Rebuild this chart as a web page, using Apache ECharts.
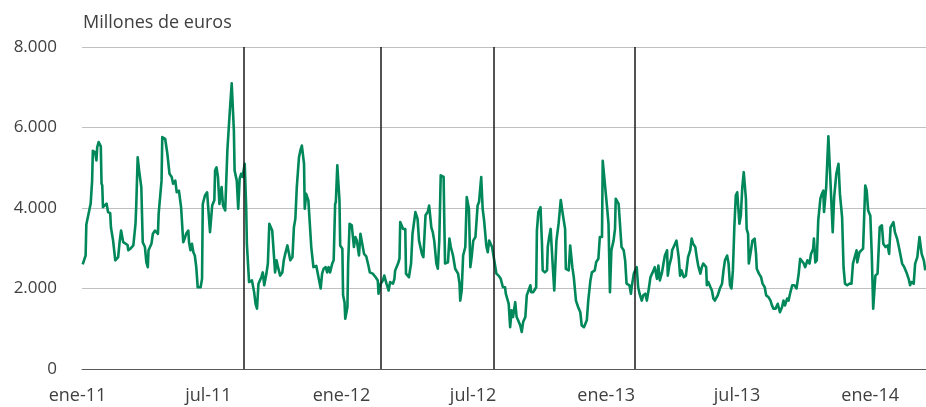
<!DOCTYPE html>
<html>
<head>
<meta charset="utf-8">
<script src="https://cdn.jsdelivr.net/npm/echarts@6/dist/echarts.min.js"></script>
<style>
  html, body { margin: 0; padding: 0; background: #fff; }
  #main { width: 926px; height: 407px; }
</style>
</head>
<body>
<div id="main"></div>
<script>
// days since 1 Jan 2011 for each reading
const dayOffsets = [
  1, 5, 6, 12, 14, 15, 18, 20, 21, 23, 26, 27, 28, 29, 31, 34, 36, 39, 40, 43,
  46, 50, 52, 54, 57, 59, 63, 64, 67, 71, 74, 75, 77, 79, 82, 84, 87, 89, 91, 92,
  96, 98, 101, 105, 106, 110, 111, 115, 118, 121, 124, 126, 129, 131, 134, 137, 140, 142, 144, 147,
  148, 150, 152, 154, 156, 158, 160, 164, 166, 167, 170, 173, 177, 179, 180, 183, 184, 186, 188, 190,
  193, 195, 198, 201, 204, 207, 210, 211, 214, 216, 218, 220, 222, 225, 227, 228, 231, 235, 238, 240,
  242, 244, 248, 250, 252, 255, 257, 259, 263, 265, 267, 269, 271, 274, 277, 279, 281, 284, 286, 288,
  291, 293, 295, 297, 300, 302, 304, 307, 308, 310, 313, 315, 317, 320, 324, 326, 330, 332, 334, 337,
  339, 341, 343, 346, 348, 350, 351, 353, 355, 356, 357, 360, 361, 363, 364, 367, 368, 370, 373, 376,
  378, 380, 383, 385, 387, 390, 393, 396, 398, 402, 406, 409, 410, 413, 416, 418, 421, 424, 426, 430,
  432, 433, 437, 439, 440, 444, 447, 448, 450, 452, 454, 455, 457, 461, 464, 466, 470, 472, 475, 478,
  480, 483, 485, 487, 490, 492, 494, 496, 500, 501, 502, 506, 508, 510, 513, 516, 520, 522, 523, 525,
  527, 530, 532, 535, 537, 539, 541, 544, 547, 549, 552, 554, 556, 559, 561, 563, 567, 570, 573, 576,
  579, 582, 585, 586, 590, 592, 594, 596, 599, 601, 603, 606, 608, 610, 613, 615, 617, 620, 621, 624,
  628, 629, 631, 634, 636, 637, 640, 643, 644, 646, 648, 651, 653, 656, 659, 662, 665, 668, 669, 673,
  675, 677, 678, 680, 683, 686, 689, 691, 694, 698, 700, 703, 705, 709, 711, 714, 716, 719, 720, 723,
  726, 728, 730, 732, 735, 737, 738, 742, 744, 746, 749, 751, 753, 757, 759, 760, 763, 767, 769, 771,
  774, 776, 779, 781, 783, 786, 789, 792, 795, 797, 799, 802, 804, 806, 809, 810, 812, 815, 816, 819,
  822, 825, 827, 829, 832, 835, 838, 841, 843, 845, 848, 850, 852, 855, 857, 859, 863, 864, 866, 869,
  871, 873, 875, 879, 882, 885, 887, 889, 892, 894, 896, 898, 900, 902, 904, 906, 909, 911, 913, 915,
  918, 919, 921, 922, 925, 927, 930, 932, 933, 936, 939, 941, 944, 946, 949, 952, 954, 956, 959, 962,
  965, 968, 970, 972, 975, 977, 979, 982, 985, 988, 991, 993, 995, 998, 1000, 1003, 1006, 1008, 1011, 1012,
  1014, 1016, 1018, 1021, 1023, 1025, 1026, 1029, 1032, 1034, 1038, 1040, 1043, 1046, 1048, 1051, 1053, 1055, 1058, 1061,
  1064, 1066, 1069, 1071, 1072, 1075, 1077, 1080, 1083, 1085, 1087, 1090, 1092, 1094, 1097, 1100, 1103, 1106, 1108, 1111,
  1114, 1116, 1118, 1122, 1124, 1127, 1130, 1134, 1137, 1140, 1143, 1145, 1147, 1150, 1152, 1155, 1158, 1160, 1161, 1164,
  1166
];

// millones de euros
const values = [
  2600, 2820, 3590, 4110, 4680, 5420, 5390, 5180, 5510, 5640, 5530, 4610, 4560, 4020, 4020, 4110, 3900, 3870, 3520, 3190,
  2700, 2780, 3150, 3440, 3150, 3120, 3080, 2950, 2990, 3070, 3610, 4060, 5260, 4930, 4520, 3150, 3030, 2650, 2530, 2950,
  3110, 3360, 3440, 3360, 3860, 4680, 5760, 5720, 5350, 4850, 4770, 4600, 4680, 4390, 4430, 4020, 3150, 3240, 3360, 3440,
  3150, 2950, 3110, 2900, 2820, 2530, 2030, 2030, 2240, 4100, 4310, 4390, 3400, 3360, 4060, 4190, 4930, 5010, 4770, 4100,
  4520, 4060, 3940, 5430, 6300, 7100, 5930, 4930, 4680, 3980, 4730, 4850, 4770, 5100, 4020, 3110, 2160, 2200, 1910, 1620,
  1500, 2120, 2280, 2400, 2080, 2370, 2620, 3610, 3440, 3400, 2400, 2700, 2530, 2320, 2400, 2700, 2860, 3070, 3030, 2700,
  2780, 3520, 3730, 4520, 5260, 5430, 5550, 5100, 3980, 4350, 4190, 4230, 3030, 2530, 2560, 2370, 2000, 2370, 2490, 2530,
  2400, 2530, 2400, 2620, 2700, 4100, 4150, 5060, 5020, 4190, 3070, 2990, 1830, 1660, 1250, 1540, 2620, 3610, 3570, 3030,
  3280, 3190, 2820, 3360, 3320, 2860, 2800, 2570, 2400, 2370, 2280, 2200, 1870, 2120, 2200, 2320, 2120, 1950, 2160, 2120,
  2240, 2450, 2620, 2740, 3650, 3480, 3480, 2370, 2400, 2280, 2320, 2620, 3360, 3900, 3730, 3190, 2860, 2780, 3820, 3900,
  4060, 3520, 3400, 3190, 2620, 2490, 3190, 4810, 4770, 3610, 2620, 2650, 3240, 3030, 2820, 2490, 2370, 2120, 1700, 1950,
  2820, 3030, 4270, 3980, 2530, 2820, 3190, 3280, 4060, 4150, 4770, 3980, 3690, 3070, 2900, 3190, 3030, 2700, 2370, 2320,
  2240, 2030, 2030, 1870, 1620, 1040, 1460, 1290, 1660, 1290, 1210, 1080, 920, 1170, 1290, 1830, 1870, 2080, 1910, 1910,
  2030, 3440, 3900, 4020, 3110, 2450, 2400, 2450, 3030, 3280, 3480, 2530, 1950, 3190, 3610, 4200, 3820, 3480, 2490, 2450,
  3070, 3070, 2530, 2280, 1700, 1540, 1410, 1080, 1040, 1210, 1700, 2200, 2400, 2450, 2660, 2740, 3280, 3280, 5170, 4600,
  4020, 3610, 1910, 2950, 3190, 3480, 4230, 4100, 4060, 3030, 2950, 2700, 2120, 2080, 1870, 2030, 2370, 2530, 2030, 1870,
  1700, 1830, 1870, 1700, 1910, 2280, 2400, 2530, 2240, 2570, 2200, 2400, 2620, 2820, 2950, 2320, 2570, 2780, 2950, 3070,
  3190, 2780, 2320, 2450, 2280, 2320, 2780, 2950, 3240, 3110, 3030, 2780, 2570, 2370, 2530, 2620, 2530, 2080, 2160, 2030,
  1950, 1750, 1700, 1830, 2000, 2120, 2450, 2700, 2820, 2620, 2080, 2000, 2450, 3520, 4310, 4390, 3610, 3820, 4520, 4890,
  4230, 3480, 3360, 2620, 2950, 3190, 3240, 2860, 2490, 2370, 2280, 2120, 2030, 1830, 1790, 1700, 1580, 1500, 1500, 1620,
  1410, 1540, 1700, 1580, 1750, 1700, 1870, 2080, 2080, 2000, 2370, 2740, 2740, 2620, 2530, 2700, 2620, 2860, 2990, 3240,
  2650, 2700, 3690, 4230, 4350, 4430, 3900, 4520, 5780, 5020, 3400, 4270, 4850, 5100, 4350, 3770, 2530, 2120, 2080, 2120,
  2120, 2620, 2820, 2950, 2650, 2900, 2860, 2990, 4560, 4430, 3940, 3810, 2860, 1500, 2320, 2370, 3520, 3570, 3110, 3030,
  3070, 2860, 3520, 3650, 3400, 3240, 2990, 2620, 2530, 2400, 2240, 2080, 2160, 2120, 2620, 2780, 3280, 3320, 2860, 2700,
  2450
];

// vertical reference lines (days since 1 Jan 2011)
const eventDays = [224, 413, 570, 764];

const tickDays = [0, 181, 365, 547, 731, 912, 1096];
const tickLabels = ['ene-11', 'jul-11', 'ene-12', 'jul-12', 'ene-13', 'jul-13', 'ene-14'];

const yTicks = [0, 2000, 4000, 6000, 8000];

const fontFamily = '"Open Sans", "Noto Sans", sans-serif';
const textColor = '#404040';

var myChart = echarts.init(document.getElementById('main'), null, { renderer: 'canvas' });

const seriesData = dayOffsets.map((d, i) => [d, values[i]]);

const option = {
  animation: false,
  backgroundColor: '#fff',
  title: {
    text: 'Millones de euros',
    left: 83,
    top: 14,
    padding: 0,
    textStyle: {
      fontFamily: fontFamily,
      fontSize: 18,
      fontWeight: 'normal',
      color: textColor,
    },
  },
  grid: {
    left: 82,
    right: 0,
    top: 47,
    bottom: 38,
    containLabel: false,
  },
  xAxis: {
    type: 'value',
    min: 0,
    max: 1167,
    axisLine: {
      show: true,
      onZero: false,
      lineStyle: { color: '#595959', width: 1 },
    },
    axisTick: { show: false },
    splitLine: { show: false },
    axisLabel: {
      customValues: tickDays,
      showMinLabel: true,
      showMaxLabel: true,
      margin: 18,
      padding: [0, 9, 0, 0],
      fontFamily: fontFamily,
      fontSize: 18,
      color: textColor,
      formatter: (v) => {
        const i = tickDays.indexOf(v);
        return i >= 0 ? tickLabels[i] : '';
      },
    },
  },
  yAxis: {
    type: 'value',
    min: 0,
    max: 8000,
    interval: 2000,
    axisLine: { show: false },
    axisTick: { show: false },
    splitLine: {
      show: true,
      lineStyle: { color: '#c0c0c0', width: 1 },
    },
    axisLabel: {
      margin: 25,
      fontFamily: fontFamily,
      fontSize: 17,
      color: textColor,
      formatter: (v) => {
        if (yTicks.indexOf(v) < 0) return '';
        return v.toString().replace(/\B(?=(\d{3})+(?!\d))/g, '.');
      },
    },
  },
  series: [
    {
      name: 'Millones de euros',
      type: 'line',
      data: seriesData,
      showSymbol: false,
      smooth: false,
      lineStyle: {
        color: '#00875a',
        width: 2.6,
        join: 'round',
      },
      markLine: {
        silent: true,
        symbol: 'none',
        label: { show: false },
        lineStyle: { color: '#1a1a1a', width: 1.5, type: 'solid' },
        data: eventDays.map((d) => ({ xAxis: d })),
      },
      z: 3,
    },
  ],
};

myChart.setOption(option);
</script>
</body>
</html>
